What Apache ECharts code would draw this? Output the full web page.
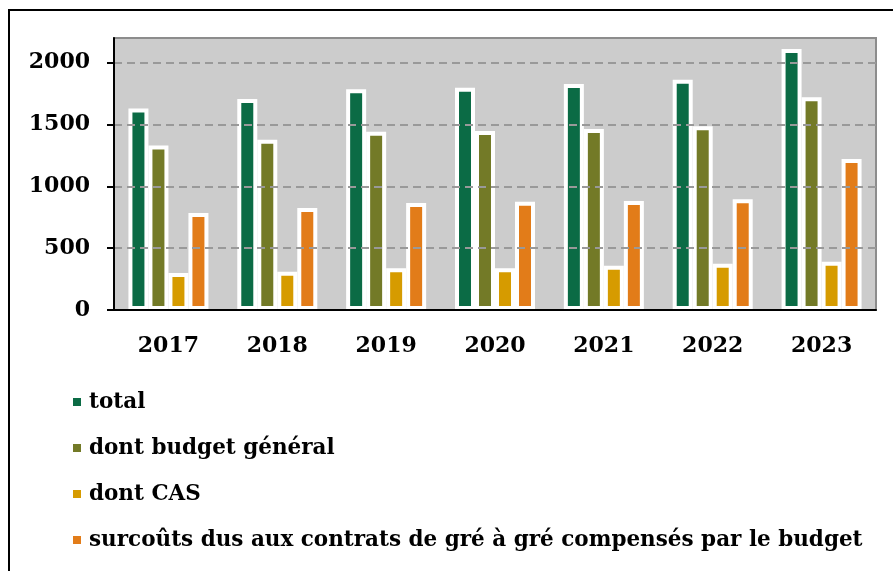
<!DOCTYPE html>
<html>
<head>
<meta charset="utf-8">
<script src="https://cdn.jsdelivr.net/npm/echarts@6/dist/echarts.min.js"></script>
<style>
html, body { margin: 0; padding: 0; background: #fff; }
#chart { width: 893px; height: 571px; }
</style>
</head>
<body>
<div id="chart"></div>
<script>
var years = ['2017', '2018', '2019', '2020', '2021', '2022', '2023'];
var total = [1630, 1706, 1786, 1798, 1827, 1862, 2112];
var budgetGeneral = [1330, 1378, 1441, 1447, 1463, 1487, 1720];
var cas = [300, 309, 338, 338, 358, 374, 390];
var surcouts = [785, 825, 866, 876, 882, 896, 1221];
var yTicks = [0, 500, 1000, 1500, 2000];

var font = 'DejaVu Serif';
var myChart = echarts.init(document.getElementById('chart'));

function bars(name, data, color) {
    return {
        name: name,
        type: 'bar',
        data: data,
        barWidth: 20,
        barGap: '0%',
        itemStyle: {
            color: color,
            borderColor: '#fff',
            borderWidth: 4
        }
    };
}

var option = {
    animation: false,
    graphic: [{
        type: 'rect',
        shape: { x: 9, y: 10, width: 900, height: 600 },
        style: { fill: 'none', stroke: '#000', lineWidth: 2 },
        z: -1
    }],
    grid: {
        left: 114,
        top: 38,
        right: 17,
        bottom: 261,
        show: true,
        backgroundColor: '#cccccc',
        borderColor: '#8c8c8c',
        borderWidth: 2
    },
    legend: {
        orient: 'vertical',
        left: 66,
        top: 386,
        itemWidth: 10,
        itemHeight: 10,
        itemGap: 24,
        icon: 'rect',
        textStyle: {
            fontFamily: font,
            fontWeight: 'bold',
            fontSize: 21.5,
            color: '#000',
            padding: [0, 0, 0, 2]
        }
    },
    xAxis: {
        type: 'category',
        data: years,
        z: 10,
        axisLine: { lineStyle: { color: '#000', width: 2 } },
        axisTick: { length: 7, lineStyle: { color: '#000', width: 2 } },
        axisLabel: {
            margin: 25,
            fontFamily: font,
            fontWeight: 'bold',
            fontSize: 22,
            color: '#000'
        }
    },
    yAxis: {
        type: 'value',
        min: 0,
        max: 2200,
        interval: 500,
        z: 10,
        axisLine: { show: true, lineStyle: { color: '#000', width: 2 } },
        axisTick: { show: true, length: 7, customValues: yTicks, lineStyle: { color: '#000', width: 2 } },
        axisLabel: {
            margin: 24,
            customValues: yTicks,
            formatter: function (v) { return String(v); },
            fontFamily: font,
            fontWeight: 'bold',
            fontSize: 22,
            color: '#000'
        },
        splitLine: { lineStyle: { color: '#999', width: 2, type: [8, 5] } }
    },
    series: [
        bars('total', total, '#0b6b45'),
        bars('dont budget général', budgetGeneral, '#737a27'),
        bars('dont CAS', cas, '#d69b00'),
        bars('surcoûts dus aux contrats de gré à gré compensés par le budget', surcouts, '#e27c19')
    ]
};

myChart.setOption(option);
</script>
</body>
</html>
